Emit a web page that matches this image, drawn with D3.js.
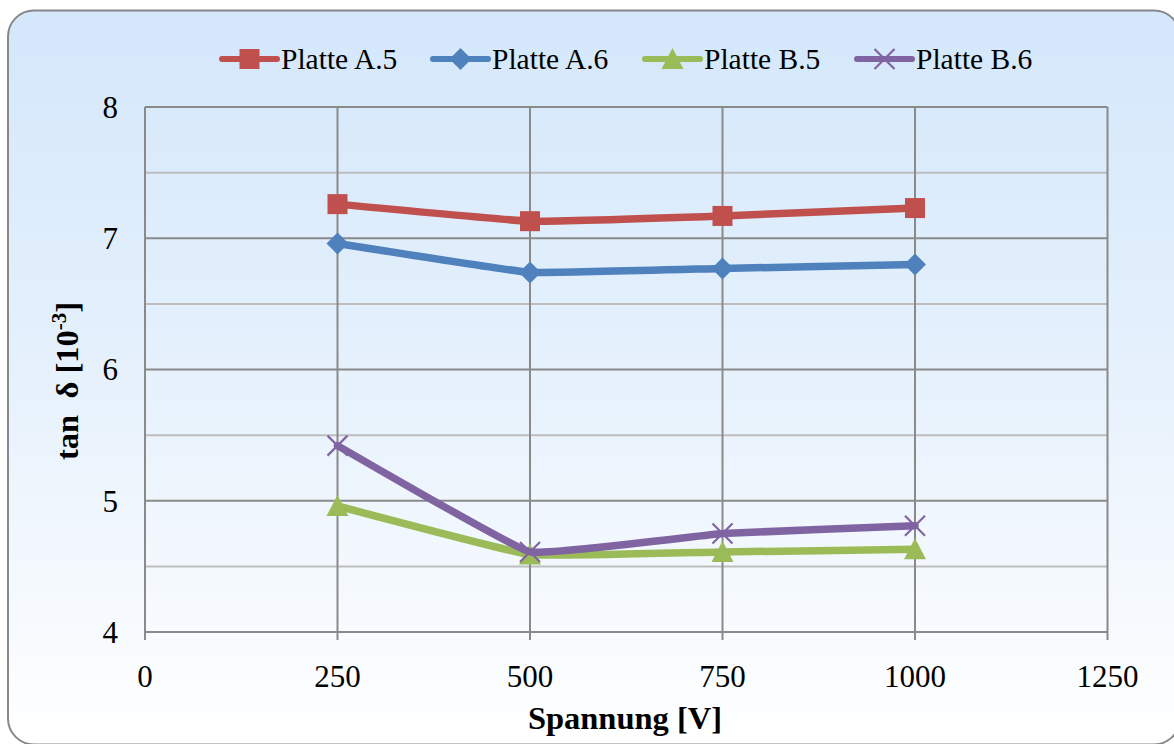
<!DOCTYPE html>
<html><head><meta charset="utf-8">
<script src="https://cdnjs.cloudflare.com/ajax/libs/d3/7.8.5/d3.min.js"></script>
<style>body{margin:0;background:#fff}svg{display:block}</style>
</head><body><svg id="c" width="1174" height="744"></svg>
<script>
const voltages = [250, 500, 750, 1000];
const platteA5 = [7.26, 7.13, 7.17, 7.23];
const platteA6 = [6.96, 6.74, 6.77, 6.80];
const platteB5 = [4.96, 4.59, 4.61, 4.63];
const platteB6 = [5.42, 4.61, 4.75, 4.81];
const seriesNames = ["Platte A.5", "Platte A.6", "Platte B.5", "Platte B.6"];
const xTicks = [0, 250, 500, 750, 1000, 1250];
const yTicks = [4, 5, 6, 7, 8];
const yMinor = [4.5, 5.5, 6.5, 7.5];

const series = [
  {name: seriesNames[0], values: platteA5, color: "#C0504D", marker: "square"},
  {name: seriesNames[1], values: platteA6, color: "#4F81BD", marker: "diamond"},
  {name: seriesNames[2], values: platteB5, color: "#9BBB59", marker: "triangle"},
  {name: seriesNames[3], values: platteB6, color: "#8064A2", marker: "x"}
];

const svg = d3.select("#c");
const font = "'Liberation Serif', 'DejaVu Serif', serif";
const defs = svg.append("defs");
const grad = defs.append("linearGradient").attr("id","bg").attr("x1",0).attr("y1",0).attr("x2",0).attr("y2",1);
grad.append("stop").attr("offset","0%").attr("stop-color","#D4E7FB");
grad.append("stop").attr("offset","45%").attr("stop-color","#E4F0FC");
grad.append("stop").attr("offset","100%").attr("stop-color","#FFFFFF");

svg.append("rect").attr("x",8).attr("y",10.5).attr("width",1172).attr("height",734)
  .attr("rx",26).attr("fill","url(#bg)").attr("stroke","#888").attr("stroke-width",2);

const L = 145, R = 1107.5, T = 107, B = 632;
const x = d3.scaleLinear().domain([0,1250]).range([L,R]);
const y = d3.scaleLinear().domain([4,8]).range([B,T]);

const g = svg.append("g");
g.selectAll(".minor").data(yMinor).join("line")
  .attr("x1",L).attr("x2",R).attr("y1",d=>y(d)).attr("y2",d=>y(d))
  .attr("stroke","#BDBDBD").attr("stroke-width",2);
g.selectAll(".major").data(yTicks).join("line")
  .attr("x1",L).attr("x2",R).attr("y1",d=>y(d)).attr("y2",d=>y(d))
  .attr("stroke","#8A8A8A").attr("stroke-width",2);
g.selectAll(".vgrid").data(xTicks).join("line")
  .attr("x1",d=>x(d)).attr("x2",d=>x(d)).attr("y1",T).attr("y2",B+8)
  .attr("stroke","#8A8A8A").attr("stroke-width",2);

g.selectAll(".ylab").data(yTicks).join("text")
  .attr("x",118).attr("y",d=>y(d)).attr("dy","0.35em").attr("text-anchor","end")
  .attr("font-family",font).attr("font-size",31).attr("fill","#000").text(d=>d);
g.selectAll(".xlab").data(xTicks).join("text")
  .attr("x",d=>x(d)).attr("y",687).attr("text-anchor","middle")
  .attr("font-family",font).attr("font-size",31).attr("fill","#000").text(d=>d);

svg.append("text").attr("x",625).attr("y",729).attr("text-anchor","middle")
  .attr("font-family",font).attr("font-size",32.5).attr("font-weight","bold").text("Spannung [V]");
const yt = svg.append("text").attr("transform","translate(78,381) rotate(-90)").attr("text-anchor","middle")
  .attr("font-family",font).attr("font-size",32.5).attr("font-weight","bold");
yt.append("tspan").text("tan\u00A0\u00A0δ [10");
yt.append("tspan").attr("baseline-shift","super").attr("font-size",21).text("-3");
yt.append("tspan").text("]");

function drawMarker(sel, type, color, cx, cy){
  const s = 10;
  if(type==="square"){
    sel.append("rect").attr("x",cx-s).attr("y",cy-s).attr("width",2*s).attr("height",2*s).attr("fill",color);
  } else if(type==="diamond"){
    sel.append("path").attr("d",`M${cx},${cy-11}L${cx+11},${cy}L${cx},${cy+11}L${cx-11},${cy}Z`).attr("fill",color);
  } else if(type==="triangle"){
    sel.append("path").attr("d",`M${cx},${cy-11}L${cx+11},${cy+10}L${cx-11},${cy+10}Z`).attr("fill",color);
  } else {
    sel.append("path").attr("d",`M${cx-10},${cy-10}L${cx+10},${cy+10}M${cx+10},${cy-10}L${cx-10},${cy+10}`)
      .attr("stroke",color).attr("stroke-width",2.2).attr("fill","none");
  }
}

const line = d3.line().x(d=>x(d[0])).y(d=>y(d[1])).curve(d3.curveCardinal.tension(0.75));
series.forEach(s=>{
  const pts = voltages.map((v,i)=>[v, s.values[i]]);
  const sg = svg.append("g");
  sg.append("path").datum(pts).attr("d",line).attr("fill","none").attr("stroke",s.color)
    .attr("stroke-width",7.5).attr("stroke-linecap","round").attr("stroke-linejoin","round");
  pts.forEach(p=>drawMarker(sg, s.marker, s.color, x(p[0]), y(p[1])));
});

const legX = [222, 433, 645, 857];
series.forEach((s,i)=>{
  const lg = svg.append("g");
  const x0 = legX[i], ly = 59;
  lg.append("line").attr("x1",x0).attr("x2",x0+55).attr("y1",ly).attr("y2",ly)
    .attr("stroke",s.color).attr("stroke-width",6).attr("stroke-linecap","round");
  drawMarker(lg, s.marker, s.color, x0+27.5, ly);
  lg.append("text").attr("x",x0+59).attr("y",ly).attr("dy","0.35em")
    .attr("font-family",font).attr("font-size",29.5).attr("fill","#000").text(s.name);
});
</script></body></html>
